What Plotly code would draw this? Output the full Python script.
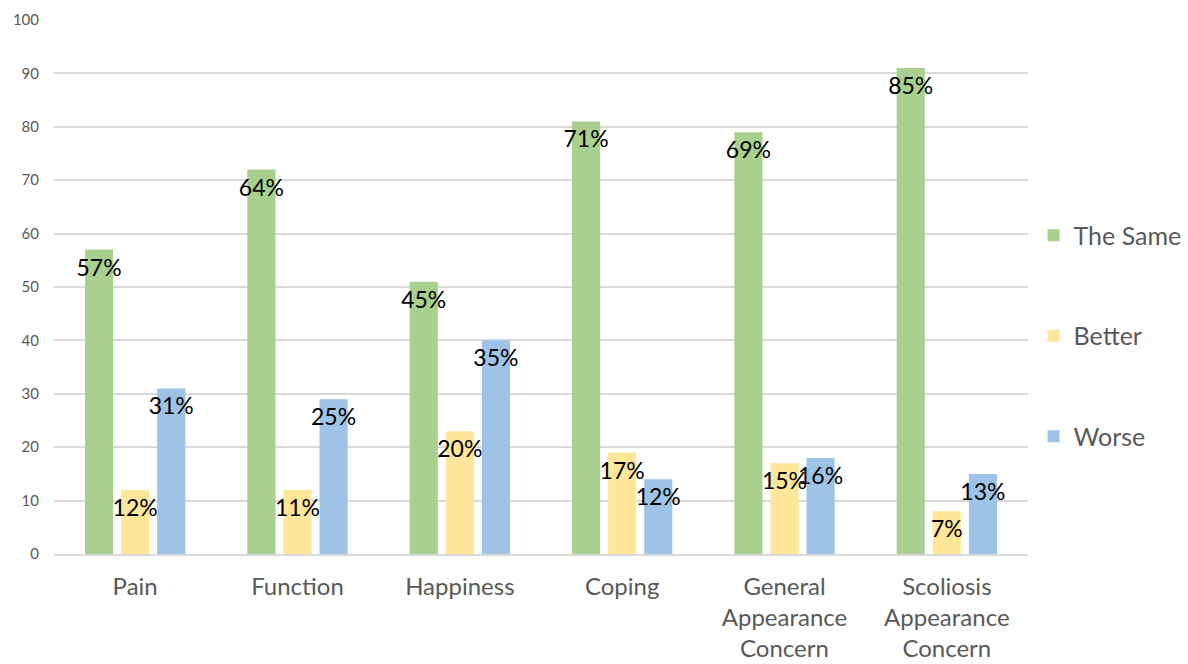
import plotly.graph_objects as go

# Outcome categories shown along the x axis
categories = ["Pain", "Function", "Happiness", "Coping",
              "General<br>Appearance<br>Concern", "Scoliosis<br>Appearance<br>Concern"]

# Number of responses per outcome
same_counts = [57, 72, 51, 81, 79, 91]
better_counts = [12, 12, 23, 19, 17, 8]
worse_counts = [31, 29, 40, 14, 18, 15]

# Share of responses, printed on each bar
same_pct = ["57%", "64%", "45%", "71%", "69%", "85%"]
better_pct = ["12%", "11%", "20%", "17%", "15%", "7%"]
worse_pct = ["31%", "25%", "35%", "12%", "16%", "13%"]

y_ticks = [0, 10, 20, 30, 40, 50, 60, 70, 80, 90, 100]

series = [
    ("The Same", same_counts, same_pct, "#a9d08e"),
    ("Better", better_counts, better_pct, "#ffe699"),
    ("Worse", worse_counts, worse_pct, "#9dc3e6"),
]

fig = go.Figure()
for name, counts, pct, color in series:
    fig.add_trace(go.Bar(
        name=name,
        x=categories,
        y=counts,
        text=pct,
        textposition="inside",
        insidetextanchor="end",
        constraintext="none",
        textangle=0,
        cliponaxis=False,
        textfont=dict(family="Lato", size=23, color="#000000"),
        marker=dict(color=color, line=dict(width=0)),
        legendgroup=name,
        hoverinfo="skip",
    ))

fig.update_layout(
    width=1188,
    height=664,
    margin=dict(l=54, r=160, t=20, b=110, autoexpand=False),
    paper_bgcolor="white",
    plot_bgcolor="white",
    barmode="group",
    bargap=0.333,
    bargroupgap=0.22,
    font=dict(family="Lato", color="#595959"),
    legend=dict(
        xref="container", yref="container",
        x=0.870, y=0.494, xanchor="left", yanchor="middle",
        font=dict(family="Lato", size=25, color="#595959"),
        tracegroupgap=65,
        itemwidth=30,
        bgcolor="rgba(0,0,0,0)",
    ),
    xaxis=dict(
        automargin=False,
        showgrid=False,
        showline=True,
        linecolor="#d9d9d9",
        linewidth=1.5,
        tickfont=dict(family="Lato", size=24, color="#595959"),
        ticks="",
        ticklabelstandoff=10,
    ),
    yaxis=dict(
        automargin=False,
        range=[0, 100],
        tickvals=y_ticks,
        showgrid=True,
        gridcolor="#d9d9d9",
        gridwidth=1.5,
        zeroline=False,
        showline=False,
        tickfont=dict(family="Lato", size=15, color="#595959"),
        ticklabelstandoff=14,
    ),
)

fig.write_html("out.html")
